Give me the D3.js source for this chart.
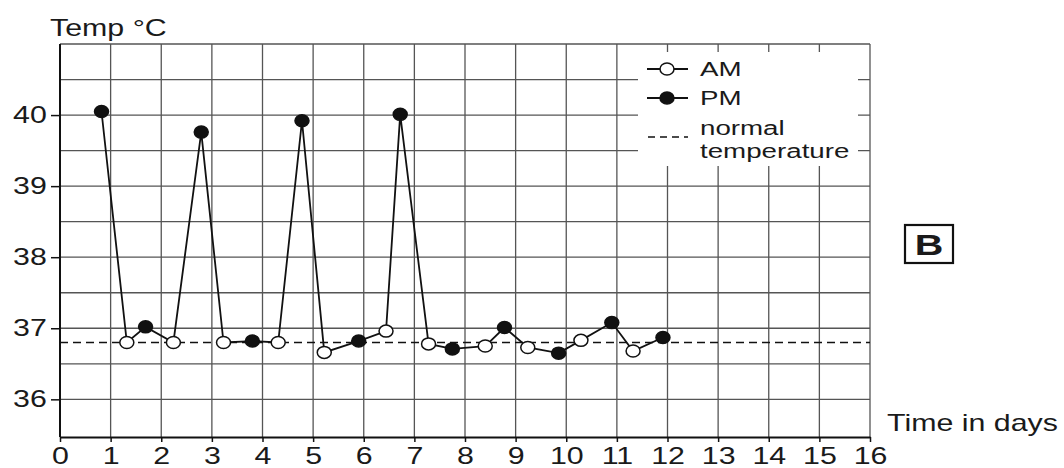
<!DOCTYPE html>
<html>
<head>
<meta charset="utf-8">
<script src="https://cdn.jsdelivr.net/npm/d3@7"></script>
<style>
	body { margin: 0; background: #fff; }
	text { font-family: "Liberation Sans", Arial, sans-serif; fill: #1a1a1a; }
</style>
</head>
<body>
<div id="chart"></div>
<script>

// Day positions and temperatures
var amDays = [1.32, 2.24, 3.23, 4.31, 5.22, 6.44, 7.28, 8.40, 9.24, 10.29, 11.32];
var amTemps = [36.80, 36.80, 36.80, 36.80, 36.66, 36.96, 36.78, 36.75, 36.73, 36.83, 36.68];
var pmDays = [0.82, 1.69, 2.79, 3.80, 4.78, 5.90, 6.72, 7.75, 8.78, 9.85, 10.90, 11.91];
var pmTemps = [40.05, 37.02, 39.76, 36.82, 39.92, 36.82, 40.01, 36.71, 37.01, 36.65, 37.08, 36.87];
var normalTemp = 36.8;
var xTicks = d3.range(0, 17);
var yTicks = [36, 37, 38, 39, 40];
var legendItems = ["AM", "PM"];

var stretch = "scale(1.32,1)";

var svg = d3.select("#chart")
	.append("svg")
	.attr("width", 1064)
	.attr("height", 468);

// (scales) Days across, degrees up
var x = d3.scaleLinear().domain([0, 16]).range([60, 870]);
var y = d3.scaleLinear().domain([35.47, 41]).range([437, 44]);

// (grid) Vertical lines every day, horizontal every half degree
svg.append("g")
	.selectAll("line")
	.data(xTicks)
	.enter()
	.append("line")
	.attr("x1", function(d) { return x(d); })
	.attr("x2", function(d) { return x(d); })
	.attr("y1", y(41))
	.attr("y2", y(35.47))
	.attr("stroke", "#555")
	.attr("stroke-width", 1.3);
svg.append("g")
	.selectAll("line")
	.data(d3.range(36, 41.01, 0.5))
	.enter()
	.append("line")
	.attr("x1", x(0))
	.attr("x2", x(16))
	.attr("y1", function(d) { return y(d); })
	.attr("y2", function(d) { return y(d); })
	.attr("stroke", "#555")
	.attr("stroke-width", 1.3);

// (axes) Left and bottom
var xAxis = svg.append("g")
	.attr("transform", "translate(0," + y(35.47) + ")")
	.call(d3.axisBottom(x).tickValues(xTicks).tickFormat(d3.format("d"))
		.tickSize(5).tickPadding(6).tickSizeOuter(0));
var yAxis = svg.append("g")
	.attr("transform", "translate(" + x(0) + ",0)")
	.call(d3.axisLeft(y).tickValues(yTicks).tickFormat(d3.format("d"))
		.tickSize(9).tickPadding(1).tickSizeOuter(0));
[xAxis, yAxis].forEach(function(ax) {
	ax.select(".domain").attr("stroke", "#111").attr("stroke-width", 2);
	ax.selectAll(".tick line").attr("stroke", "#111").attr("stroke-width", 1.5);
	ax.selectAll(".tick text")
		.attr("font-size", 23)
		.attr("font-family", "Liberation Sans, Arial, sans-serif")
		.attr("fill", "#1a1a1a")
		.attr("transform", stretch);
});
yAxis.select(".domain").attr("d", "M0," + y(41) + "V" + y(35.47));

// (normal) Dashed normal temperature line
svg.append("line")
	.attr("x1", x(0))
	.attr("x2", x(16))
	.attr("y1", y(normalTemp))
	.attr("y2", y(normalTemp))
	.attr("stroke", "#111")
	.attr("stroke-width", 1.5)
	.attr("stroke-dasharray", "8,5");

// (series) AM and PM readings joined in time order
var points = amDays.map(function(d, i) { return {day: d, temp: amTemps[i], pm: false}; })
	.concat(pmDays.map(function(d, i) { return {day: d, temp: pmTemps[i], pm: true}; }))
	.sort(function(a, b) { return a.day - b.day; });

svg.append("path")
	.datum(points)
	.attr("fill", "none")
	.attr("stroke", "#111")
	.attr("stroke-width", 1.8)
	.attr("d", d3.line()
		.x(function(d) { return x(d.day); })
		.y(function(d) { return y(d.temp); }));

svg.append("g")
	.selectAll("ellipse")
	.data(points)
	.enter()
	.append("ellipse")
	.attr("cx", function(d) { return x(d.day); })
	.attr("cy", function(d) { return y(d.temp); })
	.attr("rx", 7)
	.attr("ry", 6)
	.attr("fill", function(d) { return d.pm ? "#111" : "#fff"; })
	.attr("stroke", "#111")
	.attr("stroke-width", 1.5);

// (legend) White panel over the grid
var legend = svg.append("g");
legend.append("rect")
	.attr("x", 638)
	.attr("y", 52)
	.attr("width", 220)
	.attr("height", 114)
	.attr("fill", "#fff");

var rows = legend.selectAll("g.row")
	.data(legendItems)
	.enter()
	.append("g")
	.attr("class", "row")
	.attr("transform", function(d, i) { return "translate(0," + (69 + i * 29) + ")"; });
rows.append("line")
	.attr("x1", 647)
	.attr("x2", 688)
	.attr("stroke", "#111")
	.attr("stroke-width", 2);
rows.append("ellipse")
	.attr("cx", 667)
	.attr("rx", 7)
	.attr("ry", 6)
	.attr("fill", function(d) { return d === "PM" ? "#111" : "#fff"; })
	.attr("stroke", "#111")
	.attr("stroke-width", 1.5);
rows.append("text")
	.attr("transform", "translate(700,7) " + stretch)
	.attr("font-size", 21)
	.text(function(d) { return d; });

legend.append("line")
	.attr("x1", 648)
	.attr("x2", 688)
	.attr("y1", 137)
	.attr("y2", 137)
	.attr("stroke", "#111")
	.attr("stroke-width", 1.5)
	.attr("stroke-dasharray", "7,5");
legend.append("text")
	.attr("transform", "translate(700,135) " + stretch)
	.attr("font-size", 21)
	.text("normal");
legend.append("text")
	.attr("transform", "translate(700,158) " + stretch)
	.attr("font-size", 21)
	.text("temperature");

// (titles) Axis titles
svg.append("text")
	.attr("transform", "translate(50,36) " + stretch)
	.attr("font-size", 23)
	.text("Temp °C");
svg.append("text")
	.attr("transform", "translate(887,431) " + stretch)
	.attr("font-size", 23)
	.text("Time in days");

// (label) Boxed B
svg.append("rect")
	.attr("x", 905)
	.attr("y", 225)
	.attr("width", 48)
	.attr("height", 38)
	.attr("fill", "none")
	.attr("stroke", "#111")
	.attr("stroke-width", 2.2);
svg.append("text")
	.attr("transform", "translate(929,255) " + stretch)
	.attr("text-anchor", "middle")
	.attr("font-size", 30)
	.attr("font-weight", "bold")
	.text("B");

</script>
</body>
</html>
